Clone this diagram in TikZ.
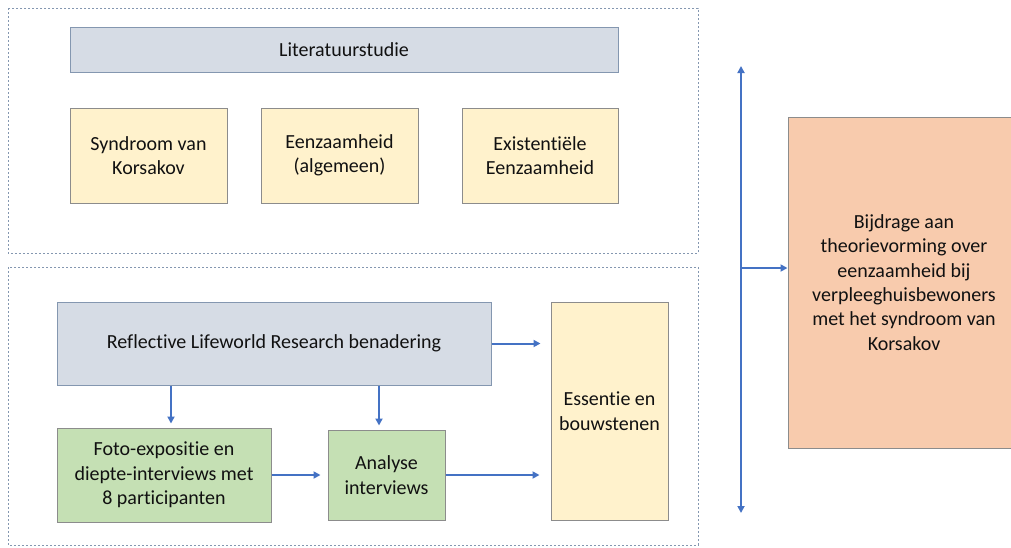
\documentclass[tikz,border=0pt]{standalone}
\usepackage{fontspec}
\setmainfont{Carlito}[Ligatures=NoCommon]
\usetikzlibrary{arrows.meta,calc}
\definecolor{bluefill}{HTML}{D6DCE5}
\definecolor{blueline}{HTML}{8497B0}
\definecolor{yelfill}{HTML}{FFF2CC}
\definecolor{grnfill}{HTML}{C5E0B4}
\definecolor{orafill}{HTML}{F8CBAD}
\definecolor{boxline}{HTML}{8C8C8C}
\definecolor{arrowblue}{HTML}{4472C4}
\definecolor{txt}{HTML}{111111}
\definecolor{dashcol}{HTML}{8497B0}
\tikzset{
  box/.style={draw=boxline, line width=1pt, inner sep=0pt, align=center, text=txt,
    font=\fontsize{20}{24.4}\selectfont},
  bluebox/.style={box, fill=bluefill, draw=blueline},
  yelbox/.style={box, fill=yelfill},
  grnbox/.style={box, fill=grnfill},
  orabox/.style={box, fill=orafill},
  frame/.style={draw=dashcol, line width=0.8pt, dash pattern=on 2pt off 2pt},
  arr/.style={draw=arrowblue, line width=2pt, -{Triangle[length=7pt,width=7pt]}},
  arrtwo/.style={draw=arrowblue, line width=2pt, {Triangle[length=7pt,width=7pt]}-{Triangle[length=7pt,width=7pt]}}
}
\begin{document}
\begin{tikzpicture}[x=1pt,y=-1pt]
\useasboundingbox (0,0) rectangle (1011,547);
% dashed frames
\draw[frame] (8,8) rectangle (698,253);
\draw[frame] (8,267) rectangle (698,545);
% top group
\node[bluebox, minimum width=548pt, minimum height=45pt] (lit) at (344,49.5) {Literatuurstudie};
\node[yelbox, minimum width=157pt, minimum height=95pt] (kor) at (148.5,155.5) {Syndroom van\\Korsakov};
\node[yelbox, minimum width=157pt, minimum height=95pt] (alg) at (339.5,155.5) {Eenzaamheid\\(algemeen)};
\node[yelbox, minimum width=156pt, minimum height=95pt] (exi) at (540,155.5) {Existentiële\\Eenzaamheid};
% bottom group
\node[bluebox, minimum width=434pt, minimum height=83pt] (refl) at (274,343.5) {Reflective Lifeworld Research benadering};
\node[yelbox, minimum width=117pt, minimum height=218pt] (ess) at (609.5,411) {Essentie en\\bouwstenen};
\node[grnbox, minimum width=214pt, minimum height=94pt] (foto) at (164,475) {Foto-expositie en\\diepte-interviews met\\8 participanten};
\node[grnbox, minimum width=117pt, minimum height=90pt] (ana) at (386.5,475) {Analyse\\interviews};
% right
\node[orabox, minimum width=232pt, minimum height=331pt] (bij) at (904,282.5) {Bijdrage aan\\theorievorming over\\eenzaamheid bij\\verpleeghuisbewoners\\met het syndroom van\\Korsakov};
% arrows
\draw[arr, shorten >=10pt] (refl.east) -- (refl.east -| ess.west);
\draw[arr, shorten >=4pt] (refl.south -| 171,0) -- (foto.north -| 171,0);
\draw[arr, shorten >=4pt] (refl.south -| 379,0) -- (ana.north -| 379,0);
\draw[arr, shorten >=7pt] (foto.east) -- (foto.east -| ana.west);
\draw[arr, shorten >=11pt] (ana.east) -- (ana.east -| ess.west);
\coordinate (vtop) at (741,66);
\coordinate (vbot) at (741,513);
\coordinate (vmid) at (741,268);
\draw[arrtwo] (vtop) -- (vbot);
\draw[arr] (vmid) -- (vmid -| bij.west);
\end{tikzpicture}
\end{document}
